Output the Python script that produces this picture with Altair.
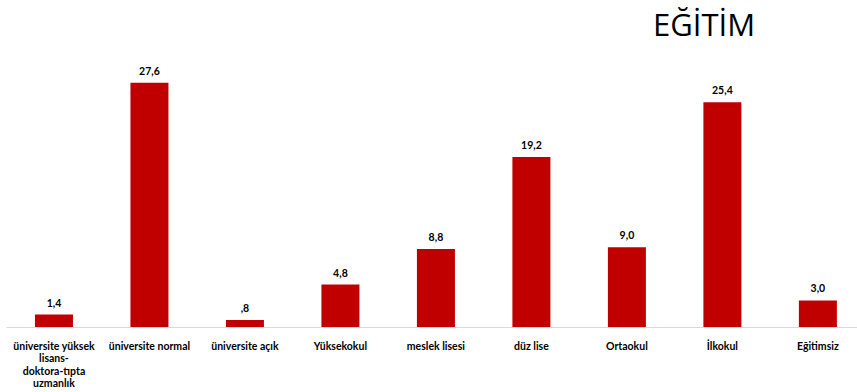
import altair as alt
import pandas as pd

categories = [
    "üniversite yüksek|lisans-|doktora-tıpta|uzmanlık",
    "üniversite normal",
    "üniversite açık",
    "Yüksekokul",
    "meslek lisesi",
    "düz lise",
    "Ortaokul",
    "İlkokul",
    "Eğitimsiz",
]
values = [1.4, 27.6, 0.8, 4.8, 8.8, 19.2, 9.0, 25.4, 3.0]
value_labels = ["1,4", "27,6", ",8", "4,8", "8,8", "19,2", "9,0", "25,4", "3,0"]

df = pd.DataFrame({"cat": categories, "val": values, "lab": value_labels})

FONT = "Lato"

x = alt.X(
    "cat:N",
    sort=None,
    title=None,
    scale=alt.Scale(paddingInner=0.602, paddingOuter=0.257, align=0.59),
    axis=alt.Axis(
        labelAngle=0,
        ticks=False,
        domainColor="#d9d9d9",
        domainWidth=1,
        labelFont=FONT,
        labelFontWeight="bold",
        labelFontSize=10.5,
        labelColor="#000000",
        labelPadding=14,
        labelLineHeight=12.6,
        labelExpr="split(datum.label, '|')",
        labelLimit=200,
        grid=False,
    ),
)
y = alt.Y("val:Q", scale=alt.Scale(domain=[0, 30]), axis=None)

bars = alt.Chart(df).mark_bar(color="#c00000").encode(x=x, y=y)
text = alt.Chart(df).mark_text(
    dy=-11, font=FONT, fontWeight="bold", fontSize=10.5, color="#000000"
).encode(x=alt.X("cat:N", sort=None), y=y, text="lab:N")

chart = (
    alt.layer(bars, text)
    .properties(
        width=851,
        height=265.5,
        padding={"left": 6, "top": 61.5, "right": 0, "bottom": 65},
        autosize=alt.AutoSizeParams(type="none"),
        background="white",
        title=alt.TitleParams(
            "EĞİTİM",
            anchor="start",
            dx=647,
            offset=19,
            font="Open Sans",
            fontSize=31,
            fontWeight="normal",
            color="#000000",
        ),
    )
    .configure_view(strokeWidth=0, stroke="transparent")
)

chart.save("out.html", embed_options={"renderer": "svg", "actions": False})
